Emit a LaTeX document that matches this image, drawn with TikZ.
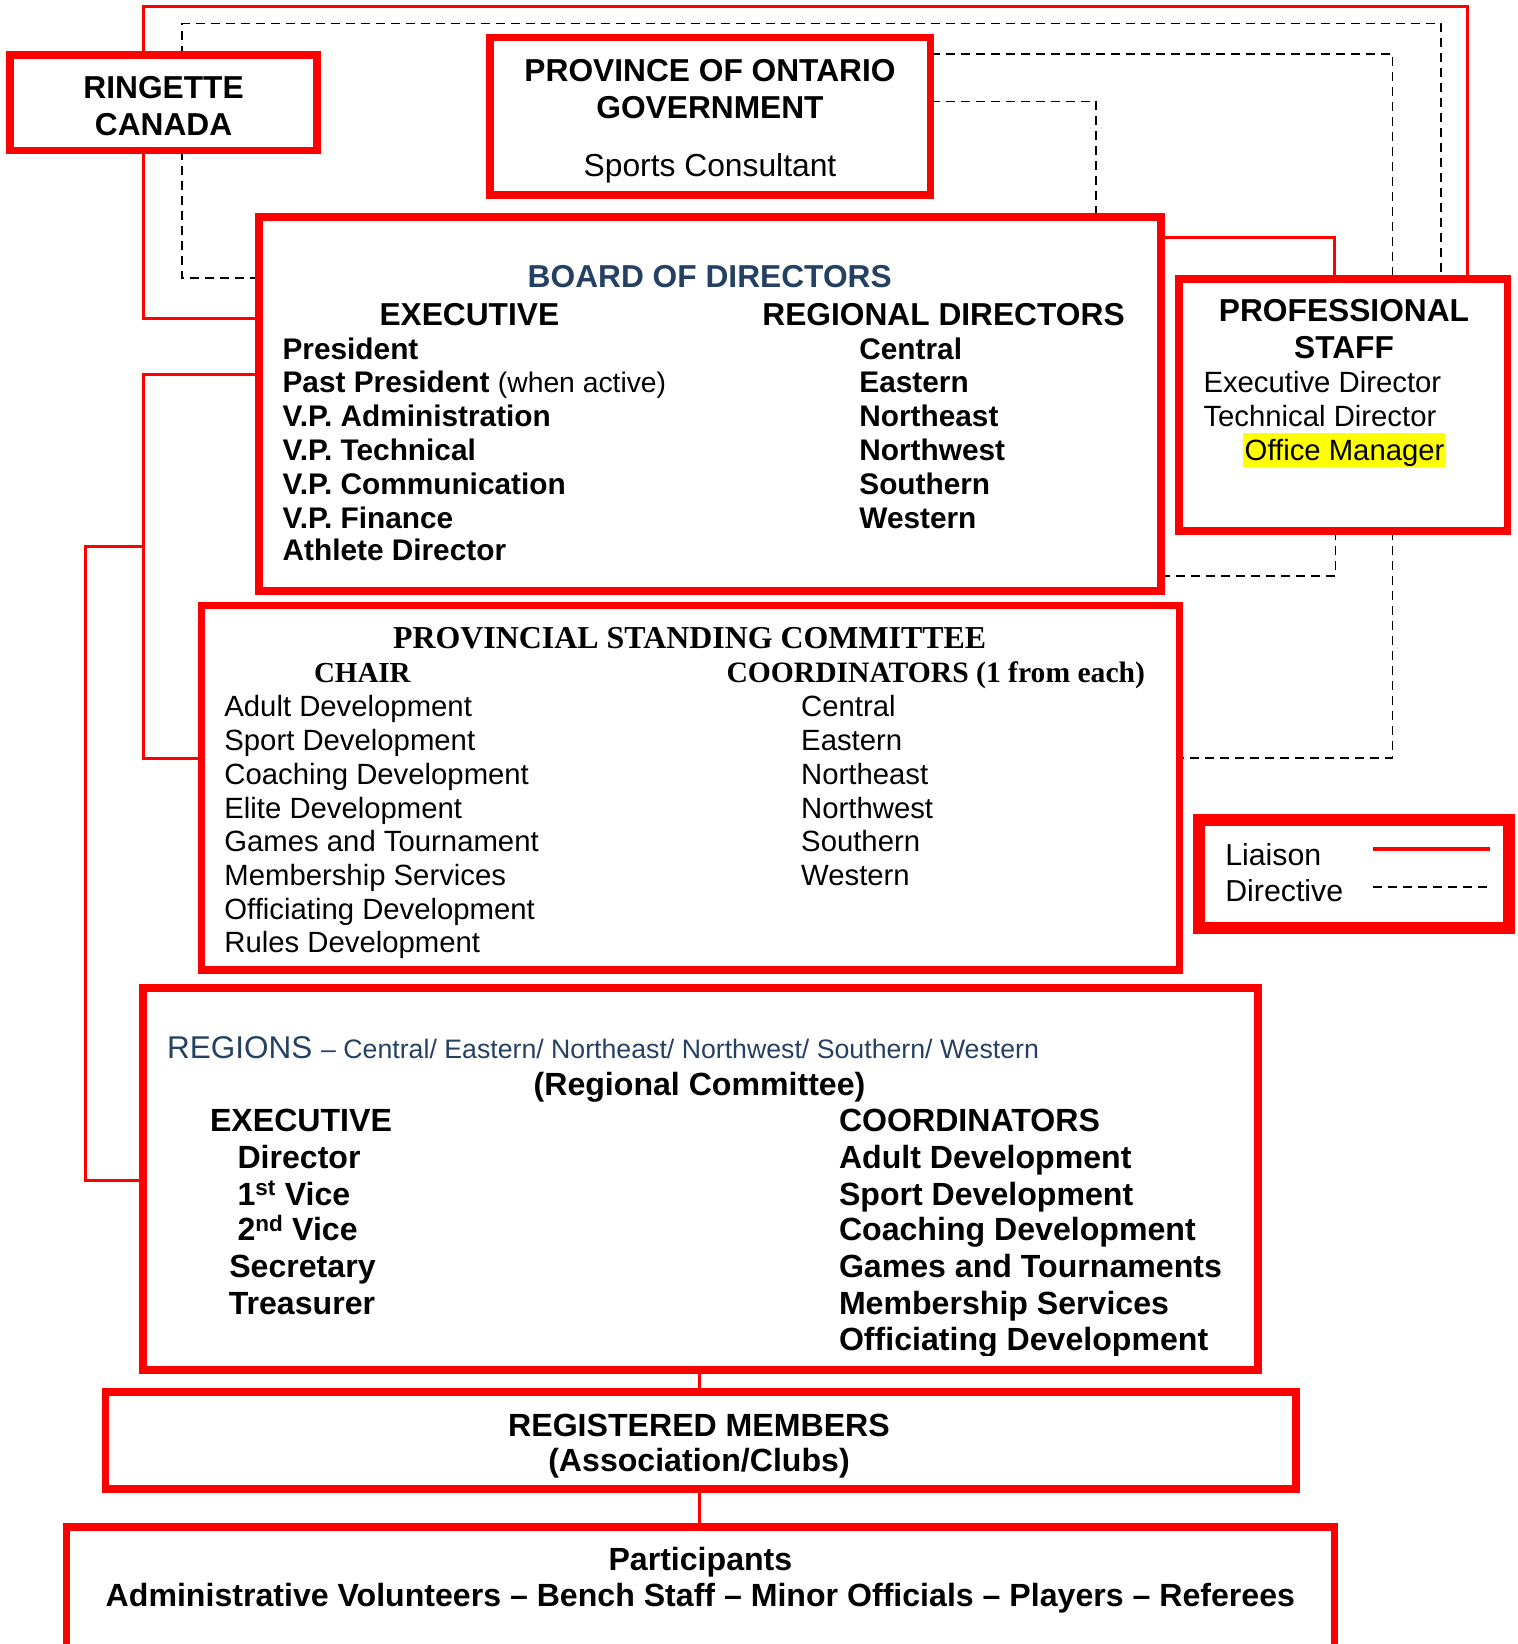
\documentclass[tikz,border=0pt]{standalone}
\usepackage{fontspec}
\setmainfont{Liberation Sans}
\newfontfamily\tmsfont{Liberation Serif}
\newcommand\fsz[1]{\fontsize{#1}{#1}\selectfont}
\definecolor{hblue}{RGB}{36,64,98}
\definecolor{hred}{RGB}{255,0,0}
\definecolor{hyel}{RGB}{255,255,0}
\pgfdeclarelayer{bg}
\pgfsetlayers{bg,main}
\begin{document}
\begin{tikzpicture}[x=1pt,y=-1pt,
  box/.style={draw=hred, line width=7.7pt, inner sep=0pt, outer sep=0pt, rectangle},
  liaison/.style={draw=hred, line width=3pt},
  directive/.style={draw=black, line width=1.5pt, dash pattern=on 9pt off 6pt},
  tl/.style={anchor=base west, inner sep=0pt, outer sep=0pt},
  tc/.style={anchor=base, inner sep=0pt, outer sep=0pt},
  hd/.style={font=\bfseries\fsz{31.7}},
  bl/.style={font=\bfseries\fsz{29.8}},
  rl/.style={font=\fsz{29.3}},
  rb/.style={font=\bfseries\fsz{32.1}},
]
\clip (0,0) rectangle (1518,1644);

% ---------- texts ----------
\node[tc,hd] (rc1) at (163.6,98.3) {RINGETTE};
\node[tc,hd] (rc2) at (163.6,135) {CANADA};

\node[tc,hd] (pv1) at (710,81) {PROVINCE OF ONTARIO};
\node[tc,hd] (pv2) at (710,118.3) {GOVERNMENT};
\node[tc,font=\fsz{31.8}] (pv3) at (710,176) {Sports Consultant};

\node[tc,hd,text=hblue] (bd0) at (709.7,287.3) {BOARD OF DIRECTORS};
\node[tl,hd] (bdE) at (379.5,325) {EXECUTIVE};
\node[tl,hd] (bdR) at (762.4,325) {REGIONAL DIRECTORS};
\node[tl,bl] (be1) at (282.6,359.3) {President};
\node[tl,bl] (be2) at (282.6,392.7) {Past President \mdseries\fsz{28.3}(when active)};
\node[tl,bl] (be3) at (282.6,426.7) {V.P. Administration};
\node[tl,bl] (be4) at (282.6,460) {V.P. Technical};
\node[tl,bl] (be5) at (282.6,494) {V.P. Communication};
\node[tl,bl] (be6) at (282.6,528.3) {V.P. Finance};
\node[tl,bl] (be7) at (282.6,560.7) {Athlete Director};
\node[tl,bl] (br1) at (859.4,359.3) {Central};
\node[tl,bl] (br2) at (859.4,392.7) {Eastern};
\node[tl,bl] (br3) at (859.4,426.7) {Northeast};
\node[tl,bl] (br4) at (859.4,460) {Northwest};
\node[tl,bl] (br5) at (859.4,494) {Southern};
\node[tl,bl] (br6) at (859.4,528.3) {Western};

\node[tc,hd] (ps1) at (1344,321.7) {PROFESSIONAL};
\node[tc,hd] (ps2) at (1344,358.3) {STAFF};
\node[tl,rl] (ps3) at (1203.5,392.7) {Executive Director};
\node[tl,rl] (ps4) at (1203.5,426.7) {Technical Director};
\fill[hyel] (1243.3,433.3) rectangle (1445,466.7);
\node[tl,rl] (ps5) at (1244.7,460.7) {Office Manager};

\node[tc,font=\tmsfont\bfseries\fsz{31.9}] (pc0) at (689.7,648.3) {PROVINCIAL STANDING COMMITTEE};
\node[tl,font=\tmsfont\bfseries\fsz{29}] (pcC) at (314,682.7) {CHAIR};
\node[tl,font=\tmsfont\bfseries\fsz{29.6}] (pcK) at (726.5,682.7) {COORDINATORS (1 from each)};
\node[tl,rl] (pa1) at (224.4,716.7) {Adult Development};
\node[tl,rl] (pa2) at (224.4,750.7) {Sport Development};
\node[tl,rl] (pa3) at (224.4,784) {Coaching Development};
\node[tl,rl] (pa4) at (224.4,818.3) {Elite Development};
\node[tl,rl] (pa5) at (224.4,851.7) {Games and Tournament};
\node[tl,rl] (pa6) at (224.4,885.7) {Membership Services};
\node[tl,rl] (pa7) at (224.4,919.3) {Officiating Development};
\node[tl,rl] (pa8) at (224.4,952.7) {Rules Development};
\node[tl,rl] (pk1) at (801.2,716.7) {Central};
\node[tl,rl] (pk2) at (801.2,750.7) {Eastern};
\node[tl,rl] (pk3) at (801.2,784) {Northeast};
\node[tl,rl] (pk4) at (801.2,818.3) {Northwest};
\node[tl,rl] (pk5) at (801.2,851.7) {Southern};
\node[tl,rl] (pk6) at (801.2,885.7) {Western};

\node[tl,text=hblue,font=\fsz{31.5}] (rg0) at (167.2,1058.3) {REGIONS \fsz{26.7}– Central/ Eastern/ Northeast/ Northwest/ Southern/ Western};
\node[tc,rb] (rg1) at (699.5,1095) {(Regional Committee)};
\node[tc,rb] (rgE) at (301,1131.7) {EXECUTIVE};
\node[tl,rb] (re1) at (237.5,1168.3) {Director};
\node[tl,rb] (re2) at (237.5,1205) {1\textsuperscript{st} Vice};
\node[tl,rb] (re3) at (237.5,1240.7) {2\textsuperscript{nd} Vice};
\node[tl,rb] (re4) at (229.3,1277.3) {Secretary};
\node[tl,rb] (re5) at (228.8,1314) {Treasurer};
\node[tl,rb] (rgK) at (839,1131.7) {COORDINATORS};
\node[tl,rb] (rk1) at (839,1168.3) {Adult Development};
\node[tl,rb] (rk2) at (839,1205) {Sport Development};
\node[tl,rb] (rk3) at (839,1240.7) {Coaching Development};
\node[tl,rb] (rk4) at (839,1277.3) {Games and Tournaments};
\node[tl,rb] (rk5) at (839,1314) {Membership Services};
\begin{scope}
\clip (800,1320) rectangle (1250,1355);
\node[tl,rb] (rk6) at (839,1350.5) {Officiating Development};
\end{scope}

\node[tc,rb] (rm1) at (699,1436.7) {REGISTERED MEMBERS};
\node[tc,rb] (rm2) at (699,1471.7) {(Association/Clubs)};
\node[tc,rb] (pt1) at (700.4,1570) {Participants};
\node[tc,rb] (pt2) at (700.4,1606.7) {Administrative Volunteers – Bench Staff – Minor Officials – Players – Referees};

\node[tl,font=\fsz{30.3}] (lg1) at (1225.3,865) {Liaison};
\node[tl,font=\fsz{30.3}] (lg2) at (1225.3,901.7) {Directive};
\coordinate (la) at (1373,849);
\coordinate (lb) at (1489.5,849);
\coordinate (da) at (1373,887);
\coordinate (db) at (1489.5,887);
\draw[draw=hred, line width=4pt] (la) -- (lb);
\draw[directive] (da) -- (db);

% ---------- boxes ----------
\node[box, minimum width=307pt, minimum height=95.8pt] (ringette) at (163.5,102.6) {};
\node[box, minimum width=440.5pt, minimum height=157.8pt] (prov) at (710.25,116.4) {};
\node[box, minimum width=902pt, minimum height=374pt] (board) at (710,404) {};
\node[box, minimum width=328.2pt, minimum height=252.3pt] (prof) at (1343.4,405.15) {};
\node[box, minimum width=978pt, minimum height=364.2pt] (psc) at (690.5,787.6) {};
\node[box, line width=12pt, minimum width=309.7pt, minimum height=107.8pt] (legend) at (1353.85,873.6) {};
\node[box, minimum width=1115pt, minimum height=381.7pt] (regions) at (700.5,1178.85) {};
\node[box, minimum width=1190.2pt, minimum height=96.7pt] (members) at (700.6,1440.35) {};
\node[box, minimum width=1268pt, minimum height=173.3pt] (partic) at (700.5,1613.35) {};

% ---------- connectors ----------
\begin{pgfonlayer}{bg}
% liaison (red)
\draw[liaison] (143,0 |- ringette.north) -- (143,6) -- (1467.7,6) -- (1467.7,0 |- prof.north);
\draw[liaison] (143,0 |- ringette.south) -- (143,318) -- (143,318 -| board.west);
\draw[liaison] (0,374 -| board.west) -- (143,374) -- (143,758) -- (143,758 -| psc.west);
\draw[liaison] (143,546.7) -- (85,546.7) -- (85,1180.7) -- (85,1180.7 -| regions.west);
\draw[liaison] (0,237.7 -| board.east) -- (1334.4,237.7) -- (1334.4,0 |- prof.north);
\draw[liaison] (regions.south -| 699,0) -- (699,0 |- members.north);
\draw[liaison] (members.south -| 699,0) -- (699,0 |- partic.north);
% directive (dashed)
\draw[directive] (182,0 |- ringette.north) -- (182,23.3) -- (1441,23.3) -- (1441,0 |- prof.north);
\draw[directive] (182,0 |- ringette.south) -- (182,278) -- (182,278 -| board.west);
\draw[directive] (0,54 -| prov.east) -- (1392.6,54) -- (1392.6,0 |- prof.north);
\draw[directive] (0,101.7 -| prov.east) -- (1096,101.7) -- (1096,0 |- board.north);
\draw[directive] (1335.4,0 |- prof.south) -- (1335.4,576) -- (1335.4,576 -| board.east);
\draw[directive] (1392.6,0 |- prof.south) -- (1392.6,758) -- (1392.6,758 -| psc.east);
\end{pgfonlayer}
\end{tikzpicture}
\end{document}
